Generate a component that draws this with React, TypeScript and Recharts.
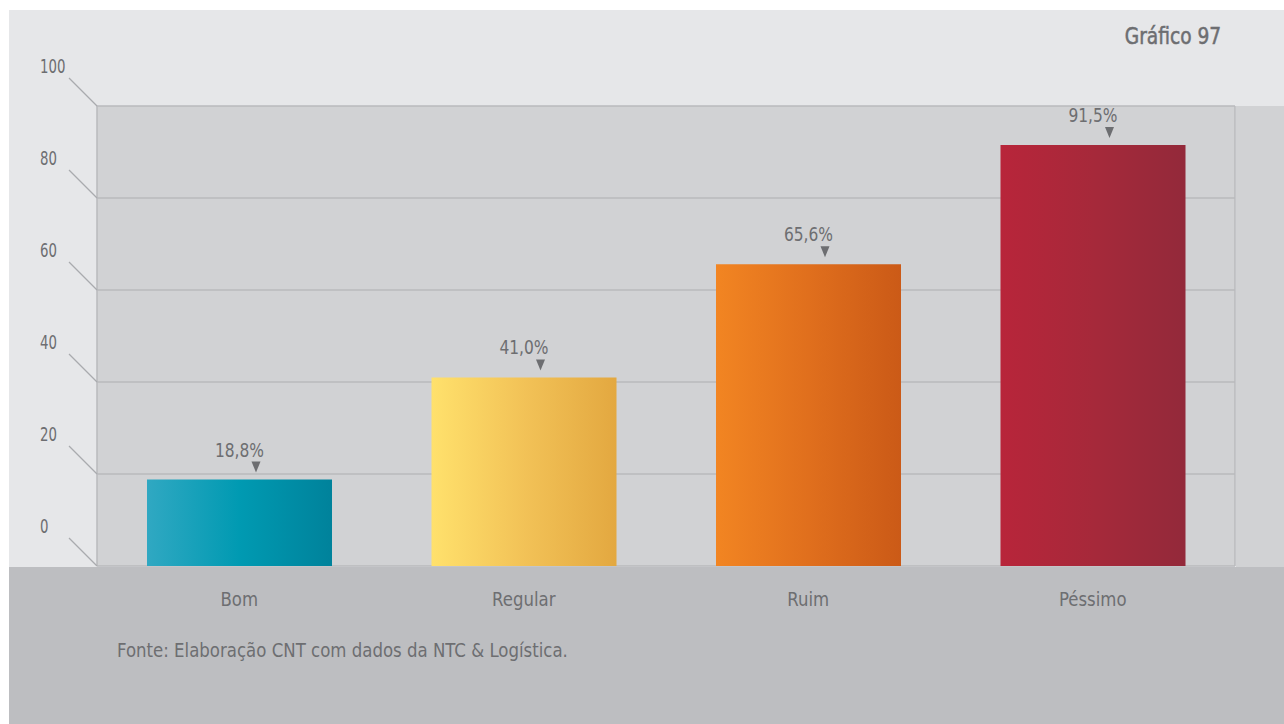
import React from 'react';
import { BarChart, Bar, XAxis, YAxis, CartesianGrid, Cell, LabelList } from 'recharts';

const categories = ['Bom', 'Regular', 'Ruim', 'Péssimo'];
const values = [18.8, 41.0, 65.6, 91.5];
const yTicks = [0, 20, 40, 60, 80, 100];
const gradients = [
  ['#30a8c2', '#009ab2', '#00829b'],
  ['#ffe16c', '#f2c257', '#e3a840'],
  ['#f28522', '#e06f1d', '#cb5a17'],
  ['#b8253a', '#a6293a', '#93293a'],
];
const title = 'Gráfico 97';
const source = 'Fonte: Elaboração CNT com dados da NTC & Logística.';

const data = categories.map((c, i) => ({ name: c, value: values[i] }));

const FONT = "'DejaVu Sans Condensed', 'Liberation Sans Narrow', 'Roboto', sans-serif";
const TEXT = '#6d6e71';
const GRID = '#b9babd';

const YTick = (props: any) => {
  const { x, y, payload } = props;
  return (
    <g>
      <line x1={x - 28} y1={y - 28} x2={x} y2={y} stroke="#a9abae" strokeWidth={1.2} />
      <text
        transform={`translate(${x - 57},${y - 33}) scale(0.74,1)`}
        x={0}
        y={0}
        fill={TEXT}
        fontSize={20}
        fontFamily={FONT}
        textAnchor="start"
      >
        {payload.value}
      </text>
    </g>
  );
};

const XTick = (props: any) => {
  const { x, y, payload } = props;
  return (
    <text
      transform={`translate(${x},${y + 32}) scale(0.92,1)`}
      x={0}
      y={0}
      fill={TEXT}
      fontSize={20}
      fontFamily={FONT}
      textAnchor="middle"
    >
      {payload.value}
    </text>
  );
};

const ValueLabel = (props: any) => {
  const { x, y, width, value } = props;
  const cx = x + width / 2;
  const tx = cx + 16.5;
  return (
    <g>
      <text
        transform={`translate(${cx},${y - 23}) scale(0.86,1)`}
        x={0}
        y={0}
        fill={TEXT}
        fontSize={20}
        fontFamily={FONT}
        textAnchor="middle"
      >
        {value.toFixed(1).replace('.', ',') + '%'}
      </text>
      <path d={`M${tx - 4.5},${y - 18} L${tx + 4.5},${y - 18} L${tx},${y - 7} Z`} fill={TEXT} />
    </g>
  );
};

export default function App() {
  return (
    <div style={{ position: 'absolute', left: 9, top: 10, width: 1275, height: 714, background: '#e6e7e9', overflow: 'hidden' }}>
      <div style={{ position: 'absolute', left: 1227, top: 96, width: 48, height: 461, background: '#d1d2d4' }} />
      <div style={{ position: 'absolute', left: 0, top: 557, width: 1275, height: 157, background: '#bdbec1' }} />
      <div
        style={{
          position: 'absolute',
          right: 63,
          top: 12,
          fontFamily: FONT,
          fontSize: 23,
          fontWeight: 400,
          color: TEXT,
          lineHeight: '28px',
          whiteSpace: 'nowrap',
          transform: 'scaleX(0.9)',
          transformOrigin: 'right center',
          WebkitTextStroke: '0.5px #6d6e71',
        }}
      >
        {title}
      </div>
      <div
        style={{
          position: 'absolute',
          left: 108,
          top: 628,
          fontFamily: FONT,
          fontSize: 19,
          color: TEXT,
          lineHeight: '24px',
          whiteSpace: 'nowrap',
          transform: 'scaleX(0.97)',
          transformOrigin: 'left center',
        }}
      >
        {source}
      </div>
      <div style={{ position: 'absolute', left: 0, top: 0 }}>
        <BarChart width={1275} height={714} data={data} margin={{ top: 96, right: 49, left: 0, bottom: 118 }} barSize={185}>
          <defs>
            {gradients.map((g, i) => (
              <linearGradient key={i} id={`grad${i}`} x1="0" y1="0" x2="1" y2="0">
                <stop offset="0%" stopColor={g[0]} />
                <stop offset="50%" stopColor={g[1]} />
                <stop offset="100%" stopColor={g[2]} />
              </linearGradient>
            ))}
          </defs>
          <CartesianGrid
            fill="#d1d2d4"
            stroke={GRID}
            strokeWidth={1.5}
            verticalCoordinatesGenerator={(p: any) => [p.offset.left, p.offset.left + p.offset.width]}
          />
          <XAxis dataKey="name" axisLine={false} tickLine={false} tick={<XTick />} height={40} interval={0} />
          <YAxis
            domain={[0, 100]}
            ticks={yTicks}
            width={88}
            axisLine={false}
            tickLine={false}
            tickSize={0}
            tickMargin={0}
            tick={<YTick />}
            interval={0}
          />
          <Bar dataKey="value" isAnimationActive={false}>
            {data.map((d, i) => (
              <Cell key={d.name} fill={`url(#grad${i})`} />
            ))}
            <LabelList dataKey="value" content={<ValueLabel />} />
          </Bar>
        </BarChart>
      </div>
    </div>
  );
}
